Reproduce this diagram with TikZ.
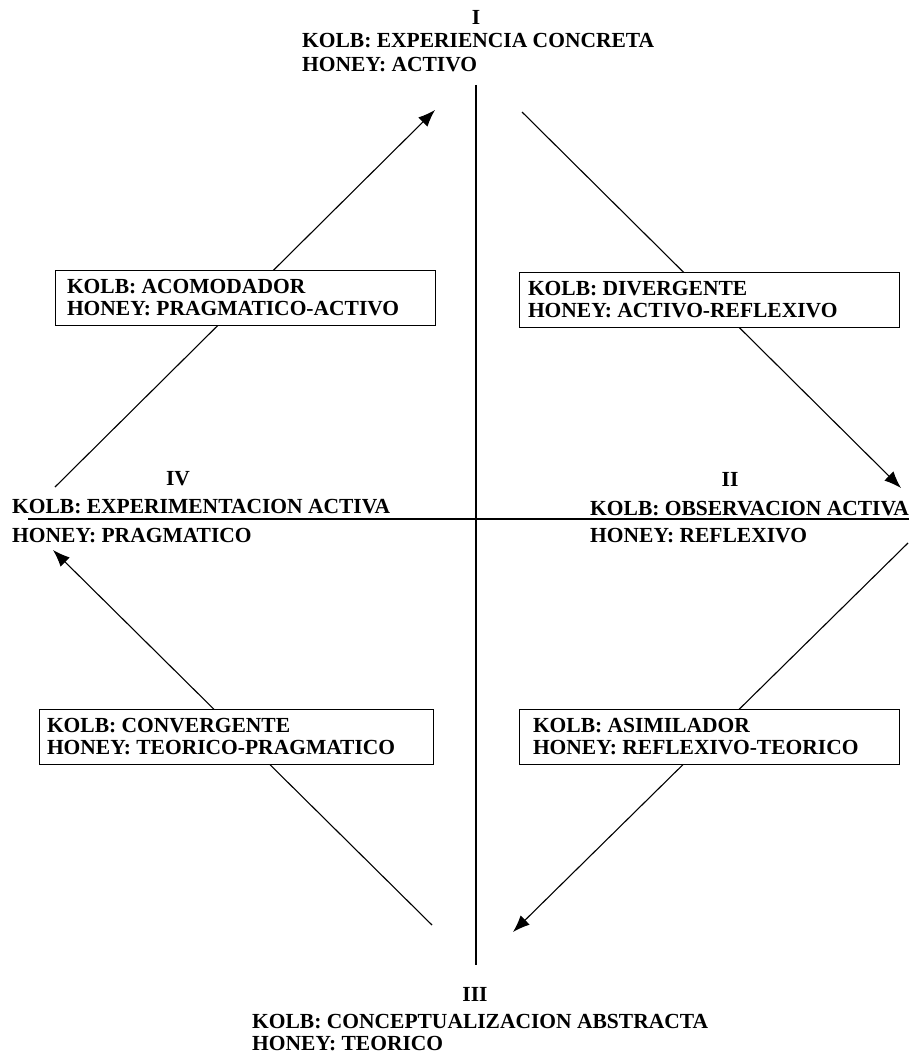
\documentclass[tikz,border=0pt]{standalone}
\usepackage{fontspec}
\setmainfont{Liberation Serif}
\usetikzlibrary{arrows.meta,positioning}
\frenchspacing

\begin{document}
\begin{tikzpicture}[x=1pt,y=-1pt,
  txt/.style={font=\bfseries\fontsize{21.5}{22}\selectfont, inner sep=0pt},
  quad/.style={txt, draw, line width=1pt, fill=white, align=flush left, minimum height=55pt, inner ysep=0pt},
  axis/.style={line width=1.1pt},
  flow/.style={line width=1.1pt, -{Latex[length=17pt,width=13pt]}}]
  \useasboundingbox (0,0) rectangle (909,1054);
  \coordinate (ax-n) at (476,85);
  \coordinate (ax-s) at (476,965);
  \coordinate (ax-w) at (28,519);
  \coordinate (ax-e) at (909,519);
  \coordinate (f1a) at (55,487);  \coordinate (f1b) at (435,110);
  \coordinate (f2a) at (522,112); \coordinate (f2b) at (901,488);
  \coordinate (f3a) at (908,543); \coordinate (f3b) at (513,932);
  \coordinate (f4a) at (432,925); \coordinate (f4b) at (53,550);
  \draw[axis] (ax-n) -- (ax-s);
  \draw[axis] (ax-w) -- (ax-e);
  \draw[flow] (f1a) -- (f1b);
  \draw[flow] (f2a) -- (f2b);
  \draw[flow] (f3a) -- (f3b);
  \draw[flow] (f4a) -- (f4b);
  % poles
  \node[txt, anchor=base] (numI) at (476,25) {I};
  \node[txt, anchor=base west] (kolbI) at (302,48) {KOLB: EXPERIENCIA CONCRETA};
  \node[txt, anchor=base west] (honeyI) at (302,72) {HONEY: ACTIVO};
  \node[txt, anchor=base] (numII) at (730,486) {II};
  \node[txt, anchor=base west] (kolbII) at (590,515) {KOLB: OBSERVACION ACTIVA};
  \node[txt, anchor=base west] (honeyII) at (590,542) {HONEY: REFLEXIVO};
  \node[txt, anchor=base] (numIII) at (475,1001) {III};
  \node[txt, anchor=base west] (kolbIII) at (252,1028) {KOLB: CONCEPTUALIZACION ABSTRACTA};
  \node[txt, anchor=base west] (honeyIII) at (252,1050) {HONEY: TEORICO};
  \node[txt, anchor=base] (numIV) at (178,485) {IV};
  \node[txt, anchor=base west] (kolbIV) at (12,513) {KOLB: EXPERIMENTACION ACTIVA};
  \node[txt, anchor=base west] (honeyIV) at (12,542) {HONEY: PRAGMATICO};
  % styles
  \node[quad, inner xsep=12pt, text width=356pt] (acomodador) at (245,298)
    {KOLB: ACOMODADOR\\HONEY: PRAGMATICO-ACTIVO};
  \node[quad, inner xsep=9pt, text width=362pt] (divergente) at (709,299.5)
    {KOLB: DIVERGENTE\\HONEY: ACTIVO-REFLEXIVO};
  \node[quad, inner xsep=14pt, text width=352pt] (asimilador) at (709,737)
    {KOLB: ASIMILADOR\\HONEY: REFLEXIVO-TEORICO};
  \node[quad, inner xsep=8pt, text width=378pt] (convergente) at (236,737)
    {KOLB: CONVERGENTE\\HONEY: TEORICO-PRAGMATICO};
\end{tikzpicture}
\end{document}
